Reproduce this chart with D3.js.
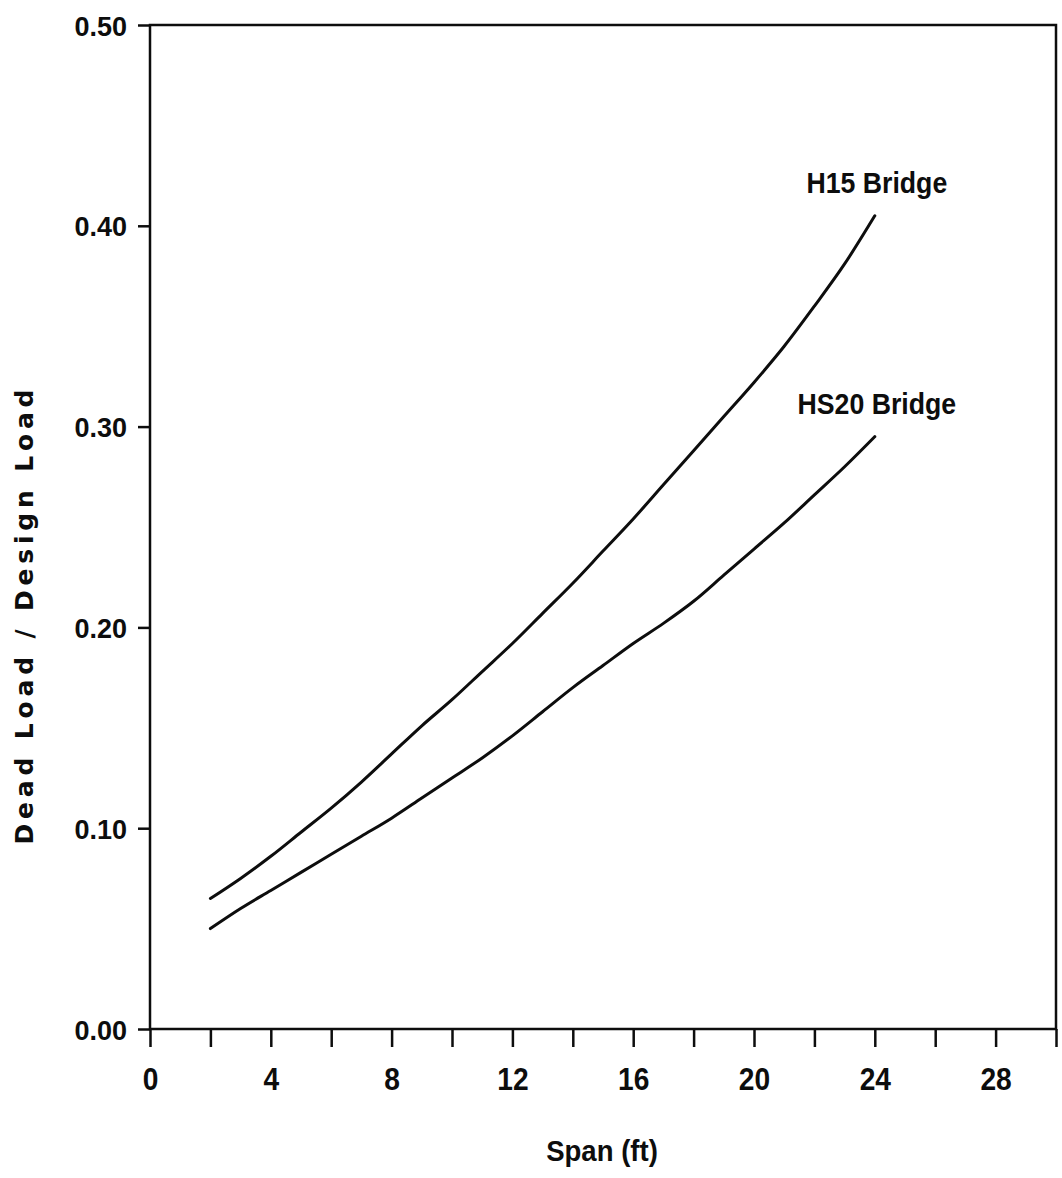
<!DOCTYPE html>
<html>
<head>
<meta charset="utf-8">
<script src="https://cdn.jsdelivr.net/npm/d3@7"></script>
<style>
  html, body { margin: 0; padding: 0; background: #fff; }
  svg { display: block; }
</style>
</head>
<body>
<svg id="chart" width="1062" height="1178"></svg>
<script>
// Span (ft) at which each curve is tabulated
const spans = [2, 3, 4, 5, 6, 7, 8, 9, 10, 11, 12, 13, 14, 15, 16, 17, 18, 19, 20, 21, 22, 23, 24];

// Dead load / design load ratio, H15 bridge
const h15 = [0.065, 0.075, 0.086, 0.098, 0.110, 0.123, 0.137, 0.151, 0.164, 0.178, 0.192, 0.207,
             0.222, 0.238, 0.254, 0.271, 0.288, 0.305, 0.322, 0.340, 0.360, 0.381, 0.405];

// Dead load / design load ratio, HS20 bridge
const hs20 = [0.050, 0.060, 0.069, 0.078, 0.087, 0.096, 0.105, 0.115, 0.125, 0.135, 0.146, 0.158,
              0.170, 0.181, 0.192, 0.202, 0.213, 0.226, 0.239, 0.252, 0.266, 0.280, 0.295];

const seriesNames = ["H15 Bridge", "HS20 Bridge"];

// Axis ticks
const xTicks = [0, 2, 4, 6, 8, 10, 12, 14, 16, 18, 20, 22, 24, 26, 28, 30];
const xLabels = [0, 4, 8, 12, 16, 20, 24, 28];
const yTicks = [0, 0.1, 0.2, 0.3, 0.4, 0.5];

const xTitle = "Span (ft)";
const yTitle = "Dead Load / Design Load";

const svg = d3.select("#chart");
const plotL = 150, plotR = 1056, plotT = 25, plotB = 1029;

const x = d3.scaleLinear().domain([0, 30]).range([plotL, plotR]);
const y = d3.scaleLinear().domain([0, 0.5]).range([plotB, plotT]);

const ink = "#0d0d0d";
const narrowFont = "'Liberation Sans', Arial, sans-serif";

// X axis
const gx = svg.append("g")
  .attr("transform", `translate(0,${plotB})`)
  .call(d3.axisBottom(x).tickValues(xTicks).tickSize(18).tickSizeOuter(0)
    .tickFormat(d => xLabels.includes(d) ? d : ""));
gx.select(".domain").remove();
gx.selectAll(".tick line").attr("stroke", ink).attr("stroke-width", 2.5);
gx.selectAll(".tick text")
  .attr("y", 0).attr("dy", 0)
  .attr("transform", "translate(0,61) scale(0.88,1)")
  .attr("fill", ink)
  .style("font-family", narrowFont)
  .style("font-size", "32px")
  .style("font-weight", "bold");

// Y axis
const gy = svg.append("g")
  .attr("transform", `translate(${plotL},0)`)
  .call(d3.axisLeft(y).tickValues(yTicks).tickSize(12).tickSizeOuter(0)
    .tickFormat(d3.format(".2f")));
gy.select(".domain").remove();
gy.selectAll(".tick line").attr("stroke", ink).attr("stroke-width", 2.5);
gy.selectAll(".tick text")
  .attr("x", -23).attr("dy", "0.37em")
  .attr("fill", ink)
  .style("font-family", "'Liberation Sans', Arial, sans-serif")
  .style("font-size", "27px")
  .style("font-weight", "bold");

// Plot frame
svg.append("rect")
  .attr("x", plotL).attr("y", plotT)
  .attr("width", plotR - plotL).attr("height", plotB - plotT)
  .attr("fill", "none").attr("stroke", ink).attr("stroke-width", 2.5);

// Curves
const line = d3.line()
  .x((d, i) => x(spans[i]))
  .y(d => y(d))
  .curve(d3.curveMonotoneX);

[h15, hs20].forEach(vals => {
  svg.append("path")
    .datum(vals)
    .attr("d", line)
    .attr("fill", "none")
    .attr("stroke", ink)
    .attr("stroke-width", 3)
    .attr("stroke-linecap", "round");
});

// Curve labels, set above the end of each curve
const lastSpan = spans[spans.length - 1];
const ends = [h15[h15.length - 1], hs20[hs20.length - 1]];
seriesNames.forEach((name, i) => {
  const cx = x(lastSpan) + 2, cy = y(ends[i]) - 23;
  svg.append("text")
    .attr("transform", `translate(${cx},${cy}) scale(0.92,1)`)
    .attr("text-anchor", "middle")
    .attr("fill", ink)
    .style("font-family", narrowFont)
    .style("font-size", "29px")
    .style("font-weight", "bold")
    .text(name);
});

// Axis titles
svg.append("text")
  .attr("transform", "translate(602,1161) scale(0.95,1)")
  .attr("text-anchor", "middle")
  .attr("fill", ink)
  .style("font-family", narrowFont)
  .style("font-size", "29px")
  .style("font-weight", "bold")
  .text(xTitle);

svg.append("text")
  .attr("transform", "translate(33,617) rotate(-90)")
  .attr("text-anchor", "middle")
  .attr("fill", ink)
  .attr("textLength", 455)
  .attr("lengthAdjust", "spacing")
  .style("font-family", "'DejaVu Sans', sans-serif")
  .style("font-size", "25px")
  .style("font-weight", "bold")
  .text(yTitle);
</script>
</body>
</html>
